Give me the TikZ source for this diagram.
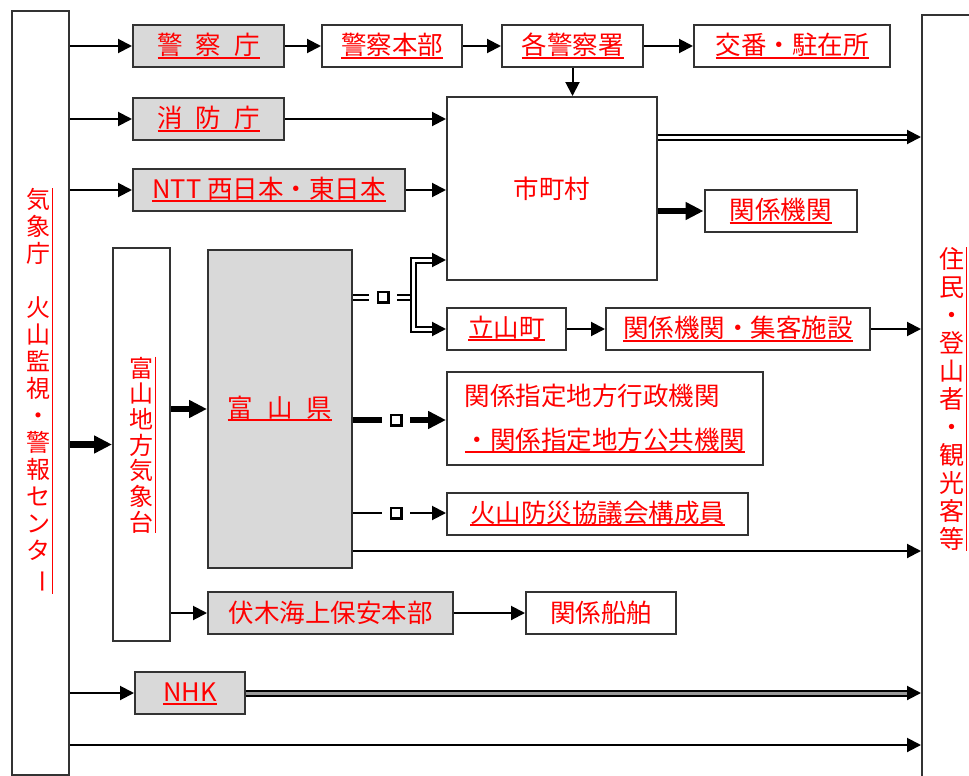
\documentclass[tikz,border=0pt]{standalone}
\usepackage{fontspec}
\usepackage{graphicx}
\usetikzlibrary{arrows.meta}
\newfontfamily\jp{Noto Sans CJK JP}
\newcommand\ulred[1]{\vtop{\hbox{\vphantom{国}#1}\kern-0.5pt\hrule height 2pt}}
\newcommand\vbar{\rotatebox[origin=c]{-90}{ー}}

\begin{document}
\begin{tikzpicture}[x=1pt,y=-1pt,font=\jp,
box/.style={draw=black!80,line width=2pt,fill=white,inner sep=0pt,minimum height=42pt,text=red,font=\jp\fontsize{25.5}{30}\selectfont},
gbox/.style={box,fill=black!15},
vtext/.style={text=red,align=center,inner sep=0pt},
redline/.style={red,line width=1.5pt},
arr/.style={line width=2pt,-{Triangle[length=14pt,width=14pt]}},
tarr/.style={line width=6.5pt,-{Triangle[length=18pt,width=17pt]}},
tline/.style={line width=6.5pt},
dbl/.style={double,line width=2pt,double distance=3pt},
darr/.style={dbl,-{Triangle[length=14pt,width=14pt]}},
sq/.style={draw,line width=2.5pt,minimum size=10.5pt,inner sep=0pt,outer xsep=9pt}]
\useasboundingbox (0,0) rectangle (969,776);

% outer columns
\node[box,minimum width=57pt,minimum height=764pt] (kisho) at (40.5,393) {};
\node[vtext,font=\jp\fontsize{24}{27}\selectfont] (kishoT) at (38.5,391)
  {気\\象\\庁\\[27pt]火\\山\\監\\視\\・\\警\\報\\セ\\ン\\タ\\\vbar};
\node[box,minimum width=64pt,minimum height=785pt] (jumin) at (954,407.5) {};
\node[vtext,font=\jp\fontsize{25}{28}\selectfont] (juminT) at (952,399)
  {住\\民\\・\\登\\山\\者\\・\\観\\光\\客\\等};

% top rows
\node[gbox,minimum width=151pt] (keisatsu) at (208.5,46) {\ulred{警\hspace{.5em}察\hspace{.5em}庁}};
\node[box,minimum width=140pt] (honbu) at (392,46) {\ulred{警察本部}};
\node[box,minimum width=141pt] (kakusho) at (572.5,46) {\ulred{各警察署}};
\node[box,minimum width=196pt] (koban) at (792,46) {\ulred{交番・駐在所}};
\node[gbox,minimum width=151pt] (shobo) at (208.5,119) {\ulred{消\hspace{.5em}防\hspace{.5em}庁}};
\node[gbox,minimum width=272pt] (ntt) at (269,190) {\ulred{NTT 西日本・東日本}};
\node[box,minimum width=210pt,minimum height=183pt] (shicho) at (552,188.5) {市町村};
\node[box,minimum width=152pt] (kankei) at (780.5,211) {\ulred{関係機関}};

% toyama
\node[box,minimum width=57pt,minimum height=393pt] (kishodai) at (141.5,444.5) {};
\node[vtext,font=\jp\fontsize{24}{25.7}\selectfont] (kishodaiT) at (141.5,445)
  {富\\山\\地\\方\\気\\象\\台};
\node[gbox,minimum width=144pt,minimum height=318pt] (ken) at (280,409) {\ulred{富\hspace{.55em}山\hspace{.55em}県}};
\node[box,minimum width=119pt] (tateyama) at (506.5,329) {\ulred{立山町}};
\node[box,minimum width=264pt] (shuukyaku) at (738,329) {\ulred{関係機関・集客施設}};
\node[box,minimum width=316pt,minimum height=93pt,align=left,font=\jp\fontsize{25.5}{44}\selectfont] (shitei) at (605,418.5)
  {関係指定地方行政機関\\\ulred{・関係指定地方公共機関}};
\node[box,minimum width=301pt] (kyogi) at (597.5,513.5) {\ulred{火山防災協議会構成員}};
\node[gbox,minimum width=245pt] (fushiki) at (330.5,613) {伏木海上保安本部};
\node[box,minimum width=150pt] (senpaku) at (601,613) {関係船舶};
\node[gbox,minimum width=110pt] (nhk) at (190,693) {\ulred{NHK}};

\node[sq] (sqA) at (383,297) {};
\node[sq] (sqB) at (396,420) {};
\node[sq] (sqC) at (396,513) {};
\coordinate (brk) at (413,297);
\coordinate (toShi) at (0,260);
\coordinate (lvShi) at (0,137);
\coordinate (lvKen) at (0,551);
\coordinate (lvLast) at (0,745);

\draw[redline] ([xshift=2pt]kishoT.north east) -- ([xshift=2pt]kishoT.south east);
\draw[redline] ([xshift=2pt]juminT.north east) -- ([xshift=2pt]juminT.south east);
\draw[redline] ([xshift=2pt]kishodaiT.north east) -- ([xshift=2pt]kishodaiT.south east);

% connectors
\draw[arr] (kisho.east|-keisatsu) -- (keisatsu);
\draw[arr] (keisatsu) -- (honbu);
\draw[arr] (honbu) -- (kakusho);
\draw[arr] (kakusho) -- (koban);
\draw[arr] (kakusho) -- (kakusho|-shicho.north);
\draw[arr] (kisho.east|-shobo) -- (shobo);
\draw[arr] (shobo) -- (shobo-|shicho.west);
\draw[arr] (kisho.east|-ntt) -- (ntt);
\draw[arr] (ntt) -- (ntt-|shicho.west);
\draw[darr] (shicho.east|-lvShi) -- (jumin.west|-lvShi);
\draw[tarr] (shicho.east|-kankei) -- (kankei);
\draw[tarr] (kisho.east|-kishodai) -- (kishodai);
\draw[tarr] (kishodai.east|-ken) -- (ken);
\draw[arr] (kishodai.east|-fushiki) -- (fushiki);
\draw[arr] (fushiki) -- (senpaku);
\draw[dbl] (ken.east|-sqA) -- (sqA);
\draw[dbl] (sqA) -- (brk);
\draw[darr] (brk) |- (shicho.west|-toShi);
\draw[darr] (brk) |- (tateyama);
\draw[arr] (tateyama) -- (shuukyaku);
\draw[arr] (shuukyaku) -- (shuukyaku-|jumin.west);
\draw[tline] (ken.east|-sqB) -- (sqB);
\draw[tarr] (sqB) -- (sqB-|shitei.west);
\draw[line width=2pt] (ken.east|-sqC) -- (sqC);
\draw[arr] (sqC) -- (sqC-|kyogi.west);
\draw[arr] (ken.east|-lvKen) -- (jumin.west|-lvKen);
\draw[arr] (kisho.east|-nhk) -- (nhk);
\draw[darr,double=black!40] (nhk) -- (nhk-|jumin.west);
\draw[arr] (kisho.east|-lvLast) -- (jumin.west|-lvLast);
\end{tikzpicture}
\end{document}
